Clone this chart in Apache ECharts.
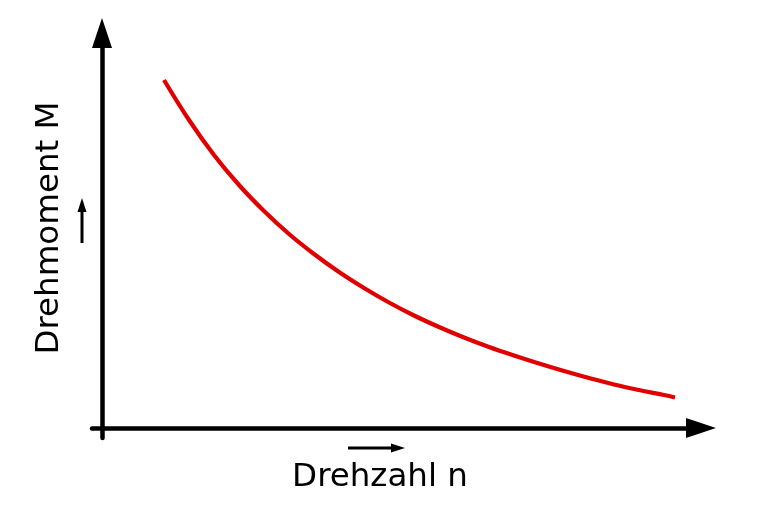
<!DOCTYPE html>
<html>
<head>
<meta charset="utf-8">
<script src="https://cdn.jsdelivr.net/npm/echarts@6/dist/echarts.min.js"></script>
<style>html,body{margin:0;padding:0;background:#fff;}#c{width:768px;height:512px;}</style>
</head>
<body>
<div id="c"></div>
<script>
// Drehzahl n (arbitrary units)
const drehzahl = [0.62, 0.87, 1.12, 1.37, 1.62, 1.87, 2.12, 2.37, 2.62, 2.87, 3.12, 3.37, 3.62, 3.87, 4.12, 4.37, 4.62, 4.87, 5.12, 5.37, 5.62, 5.73];
// Drehmoment M (arbitrary units)
const drehmoment = [3.48, 3.08, 2.73, 2.43, 2.17, 1.94, 1.74, 1.56, 1.40, 1.255, 1.125, 1.01, 0.905, 0.81, 0.725, 0.645, 0.57, 0.50, 0.435, 0.38, 0.33, 0.305];
const xLabel = 'Drehzahl n';
const yLabel = 'Drehmoment M';

const chart = echarts.init(document.getElementById('c'), null, {renderer: 'canvas'});
const font = '32.5px "DejaVu Sans"';
chart.setOption({
  animation: false,
  backgroundColor: '#fff',
  grid: {left: 92, right: 67, top: 33, bottom: 74},
  xAxis: {
    type: 'value', min: -0.1, max: 5.99,
    axisLine: {onZero: true, symbol: ['none', 'triangle'], symbolSize: [20, 30], lineStyle: {color: '#000', width: 4.5}},
    axisTick: {show: false}, axisLabel: {show: false}, splitLine: {show: false}
  },
  yAxis: {
    type: 'value', min: -0.1, max: 3.95,
    axisLine: {show: true, onZero: true, symbol: ['none', 'triangle'], symbolSize: [20, 30], lineStyle: {color: '#000', width: 4.5}},
    axisTick: {show: false}, axisLabel: {show: false}, splitLine: {show: false}
  },
  series: [{
    type: 'line',
    data: drehzahl.map((x, i) => [x, drehmoment[i]]),
    smooth: 0.4,
    showSymbol: false,
    lineStyle: {color: '#e10000', width: 4.2}
  }],
  graphic: [
    {type: 'text', x: 50, y: 228, rotation: Math.PI / 2,
     style: {text: yLabel, font: font, fill: '#000', align: 'center', verticalAlign: 'middle'}},
    {type: 'text', x: 380, y: 478,
     style: {text: xLabel, font: font, fill: '#000', align: 'center', verticalAlign: 'middle'}},
    {type: 'line', shape: {x1: 82, y1: 243, x2: 82, y2: 208}, style: {stroke: '#000', lineWidth: 3}},
    {type: 'polygon', shape: {points: [[82, 198], [77.5, 212], [86.5, 212]]}, style: {fill: '#000'}},
    {type: 'line', shape: {x1: 348, y1: 448, x2: 394, y2: 448}, style: {stroke: '#000', lineWidth: 3}},
    {type: 'polygon', shape: {points: [[405, 448], [391, 443.5], [391, 452.5]]}, style: {fill: '#000'}}
  ]
});
</script>
</body>
</html>
